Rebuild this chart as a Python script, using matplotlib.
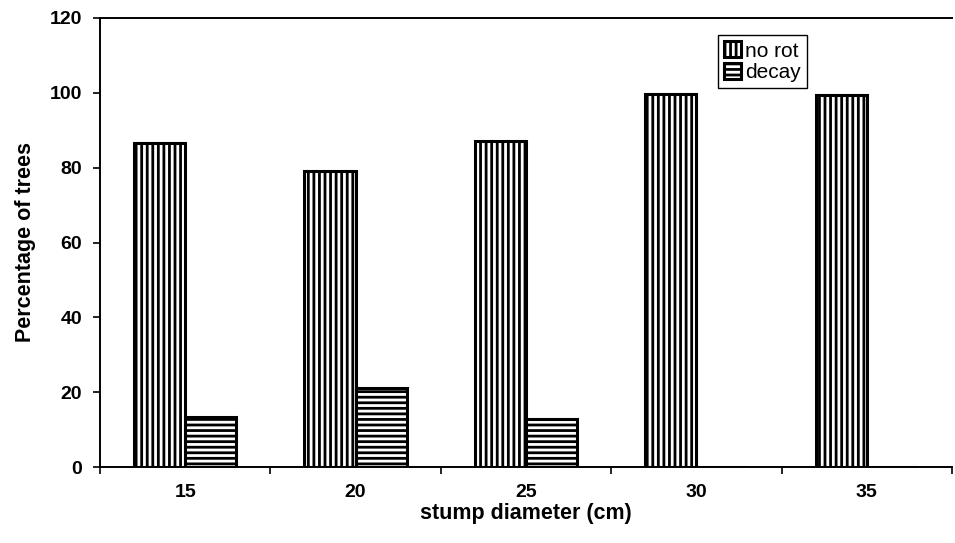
import numpy as np
import matplotlib
matplotlib.use("Agg")
import matplotlib.pyplot as plt
from matplotlib.ticker import FixedLocator

plt.rcParams['font.family'] = ['Liberation Sans', 'DejaVu Sans']
plt.rcParams['hatch.linewidth'] = 2.0
plt.rcParams['hatch.color'] = 'black'

# values
diameters = ['15', '20', '25', '30', '35']
no_rot = [86.6, 79.0, 87.1, 99.6, 99.3]
decay = [13.4, 21.0, 12.9, 0, 0]

fig = plt.figure(figsize=(9.55, 5.43), dpi=100)
ax = fig.add_axes([100 / 955, 1 - 467 / 543, 852 / 955, 449 / 543])

x = np.arange(len(diameters))
w = 0.3
ax.bar(x - w / 2, no_rot, w, color='white', edgecolor='black',
       linewidth=2.2, hatch='|||', label='no rot')
ax.bar(x + w / 2, decay, w, color='white', edgecolor='black',
       linewidth=2.2, hatch='---', label='decay')

ax.set_xlim(-0.5, len(diameters) - 0.5)
ax.set_ylim(0, 120)
ax.set_yticks(range(0, 121, 20))
ax.set_xticks(x)
ax.set_xticklabels(diameters)
ax.xaxis.set_minor_locator(FixedLocator(np.arange(-0.5, len(diameters), 1.0)))

ax.tick_params(axis='x', which='major', length=0, pad=12)
ax.tick_params(axis='x', which='minor', length=5, width=1.2, direction='out')
ax.tick_params(axis='y', length=5, width=1.2, direction='out', pad=8)
for lab in ax.get_xticklabels() + ax.get_yticklabels():
    lab.set_fontsize(14)
    lab.set_fontweight('bold')

ax.spines['right'].set_visible(False)
for s in ['left', 'top', 'bottom']:
    ax.spines[s].set_linewidth(1.4)

ax.set_xlabel('stump diameter (cm)', fontsize=15.5, fontweight='bold', labelpad=2)
ax.set_ylabel('Percentage of trees', fontsize=15.5, fontweight='bold', labelpad=10)

leg = ax.legend(loc='upper left', bbox_to_anchor=(0.725, 0.962), borderaxespad=0,
                fontsize=15, fancybox=False, framealpha=1, edgecolor='black',
                handlelength=0.8, handleheight=0.8, handletextpad=0.2,
                borderpad=0.3, labelspacing=0.1)
leg.get_frame().set_linewidth(1.0)

plt.savefig('out.png', dpi=100)
